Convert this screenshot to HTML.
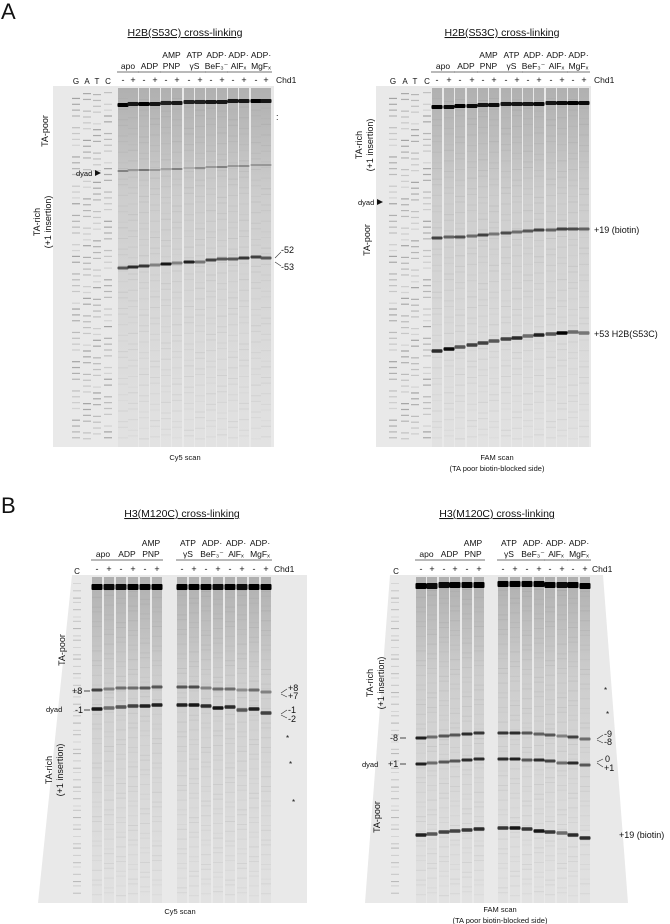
<!DOCTYPE html>
<html><head><meta charset="utf-8"><style>
html,body{margin:0;padding:0;background:#fff;width:670px;height:924px;overflow:hidden}
svg{display:block;font-family:"Liberation Sans",Arial,sans-serif}
</style></head><body>
<svg id="fig" width="670" height="924" viewBox="0 0 670 924" xmlns="http://www.w3.org/2000/svg">
<g id="gels"></g>
<g id="labels" font-size="8.5" fill="#111">
  <text x="1" y="19" font-size="22">A</text>
  <text x="1" y="513" font-size="22">B</text>
  <text x="185" y="36" font-size="10.5" text-anchor="middle" text-decoration="underline">H2B(S53C) cross-linking</text>
  <text x="502" y="36" font-size="10.5" text-anchor="middle" text-decoration="underline">H2B(S53C) cross-linking</text>
  <text x="182" y="517" font-size="10.5" text-anchor="middle" text-decoration="underline">H3(M120C) cross-linking</text>
  <text x="497" y="517" font-size="10.5" text-anchor="middle" text-decoration="underline">H3(M120C) cross-linking</text>
  <text x="185" y="460" font-size="7.5" text-anchor="middle">Cy5 scan</text>
  <text x="497" y="460" font-size="7.5" text-anchor="middle">FAM scan</text>
  <text x="497" y="471" font-size="7.5" text-anchor="middle">(TA poor biotin-blocked side)</text>
  <text x="180" y="914" font-size="7.5" text-anchor="middle">Cy5 scan</text>
  <text x="500" y="912" font-size="7.5" text-anchor="middle">FAM scan</text>
  <text x="500" y="923" font-size="7.5" text-anchor="middle">(TA poor biotin-blocked side)</text>

  <text transform="translate(48,131) rotate(-90)" text-anchor="middle" font-size="9">TA-poor</text>
  <text transform="translate(40,222) rotate(-90)" text-anchor="middle" font-size="9">TA-rich</text>
  <text transform="translate(51,222) rotate(-90)" text-anchor="middle" font-size="9">(+1 insertion)</text>
  <text x="76" y="176" font-size="7.5">dyad</text>
  <path d="M95 170 L101 173 L95 176Z" fill="#111"/>
  <text x="276" y="120" font-size="9">:</text>
  <text x="281" y="253" font-size="9">-52</text>
  <text x="281" y="270" font-size="9">-53</text>
  <path d="M275 258 L281 252 M275 262 L281 266" stroke="#333" stroke-width="0.6" fill="none"/>

  <text transform="translate(362,145) rotate(-90)" text-anchor="middle" font-size="9">TA-rich</text>
  <text transform="translate(373,145) rotate(-90)" text-anchor="middle" font-size="9">(+1 insertion)</text>
  <text x="358" y="205" font-size="7.5">dyad</text>
  <path d="M377 199 L383 202 L377 205Z" fill="#111"/>
  <text transform="translate(370,240) rotate(-90)" text-anchor="middle" font-size="9">TA-poor</text>
  <text x="594" y="233" font-size="9">+19 (biotin)</text>
  <text x="594" y="337" font-size="9">+53  H2B(S53C)</text>

  <text transform="translate(65,650) rotate(-90)" text-anchor="middle" font-size="9">TA-poor</text>
  <text transform="translate(52,770) rotate(-90)" text-anchor="middle" font-size="9">TA-rich</text>
  <text transform="translate(63,770) rotate(-90)" text-anchor="middle" font-size="9">(+1 insertion)</text>
  <text x="46" y="712" font-size="7.5">dyad</text>
  <text x="72" y="694" font-size="9">+8</text>
  <text x="75" y="713" font-size="9">-1</text>
  <path d="M84 691 L90 691 M84 710 L90 710" stroke="#111" stroke-width="0.7"/>
  <text x="288" y="691" font-size="9">+8</text>
  <text x="288" y="699" font-size="9">+7</text>
  <text x="288" y="713" font-size="9">-1</text>
  <text x="288" y="722" font-size="9">-2</text>
  <path d="M281 693 L287 689 M281 694 L287 697 M281 714 L287 710 M281 715 L287 718" stroke="#333" stroke-width="0.6"/>
  <text x="286" y="741" font-size="8">*</text>
  <text x="289" y="767" font-size="8">*</text>
  <text x="292" y="805" font-size="8">*</text>

  <text transform="translate(373,683) rotate(-90)" text-anchor="middle" font-size="9">TA-rich</text>
  <text transform="translate(384,683) rotate(-90)" text-anchor="middle" font-size="9">(+1 insertion)</text>
  <text transform="translate(380,817) rotate(-90)" text-anchor="middle" font-size="9">TA-poor</text>
  <text x="362" y="767" font-size="7.5">dyad</text>
  <text x="390" y="741" font-size="9">-8</text>
  <text x="388" y="767" font-size="9">+1</text>
  <path d="M400 738 L406 738 M400 764 L406 764" stroke="#111" stroke-width="0.7"/>
  <text x="604" y="737" font-size="9">-9</text>
  <text x="604" y="745" font-size="9">-8</text>
  <text x="605" y="762" font-size="9">0</text>
  <text x="604" y="771" font-size="9">+1</text>
  <path d="M597 739 L603 735 M597 740 L603 743 M597 762 L603 759 M597 763 L603 767" stroke="#333" stroke-width="0.6"/>
  <text x="619" y="838" font-size="9">+19 (biotin)</text>
  <text x="604" y="693" font-size="8">*</text>
  <text x="606" y="717" font-size="8">*</text>
</g>
</svg>
<script>
const groupNames=[["apo"],["ADP"],["AMP","PNP"],["ATP","γS"],["ADP·","BeF₃⁻"],["ADP·","AlFₓ"],["ADP·","MgFₓ"]];
const chd1=["-","+","-","+","-","+","-","+","-","+","-","+","-","+"];
const seqLanes=["G","A","T","C"];
const aLLanes=[123,133,144,155,166,177,189,200,211,222,233,244,256,266];
const aLSeqX=[76,87,97,108];
const aLTopY=[105,104,104,104,103,103,102,102,102,102,101,101,101,101];
const aLTopI=[1,.9,1,.9,.85,.9,.85,.85,.9,.9,.9,.9,1,.9];
const aLDyadY=[171,170,170,170,169,169,168,168,167,167,166,166,165,165];
const aLDyadI=[.4,.3,.45,.3,.25,.4,.2,.35,.3,.4,.3,.35,.3,.3];
const aL53Y=[268,267,266,265,264,263,262,262,260,259,259,258,257,258];
const aL53I=[.6,.8,.75,.4,.9,.4,.85,.45,.7,.6,.6,.75,.7,.6];
const aRLanes=[437,449,460,472,483,494,506,517,528,539,551,562,573,584];
const aRSeqX=[393,405,415,427];
const aRTopY=[107,107,106,106,105,105,104,104,104,104,103,103,103,103];
const aRTopI=[1,.95,1,.95,.9,.95,.9,.9,.9,.95,.9,.95,1,.95];
const aR19Y=[238,237,237,236,235,234,233,232,231,230,230,229,229,229];
const aR19I=[.7,.55,.65,.5,.7,.45,.65,.5,.6,.7,.55,.7,.65,.55];
const aR53Y=[351,349,347,345,343,341,339,338,336,335,334,333,332,333];
const aR53I=[.8,.95,.6,.7,.7,.6,.7,.8,.5,.85,.6,1,.5,.45];
const bLLanes=[97,109,121,133,145,157,182,194,206,218,230,242,254,266];
const bLTopY=[587,587,587,587,587,587,587,587,587,587,587,587,587,587];
const bLTopI=[1,.95,.95,1,1,1,1,1,1,.95,1,.95,1,1];
const bL8Y=[690,689,688,688,688,687,687,687,688,689,689,690,690,692];
const bL8I=[.7,.4,.5,.5,.6,.6,.6,.65,.4,.5,.5,.35,.5,.4];
const bL1Y=[709,708,707,706,706,705,705,705,706,708,707,710,709,713];
const bL1I=[.9,.5,.6,.7,.85,.85,.85,.9,.8,.9,.8,.6,.85,.7];
const bRLanes=[421,432,444,455,467,479,503,515,527,539,550,562,573,585];
const bRTopY=[586,586,585,585,585,585,584,584,584,584,585,585,585,586];
const bRTopI=[1,.95,.95,1,1,1,1,1,1,1,1,.95,1,1];
const bR8Y=[738,737,736,735,734,733,733,733,733,734,735,736,737,739];
const bR8I=[.85,.5,.6,.6,.8,.75,.75,.8,.6,.55,.6,.4,.7,.5];
const bR1Y=[764,763,762,761,760,759,759,759,760,760,761,763,763,765];
const bR1I=[.85,.5,.6,.6,.8,.8,.8,.85,.6,.8,.7,.5,.8,.6];
const bR19Y=[835,834,832,831,830,829,828,828,829,831,832,833,835,838];
const bR19I=[.85,.6,.7,.7,.75,.8,.75,.9,.75,.9,.75,.5,.8,.8];

const NS="http://www.w3.org/2000/svg";
const gels=document.getElementById('gels');
const labels=document.getElementById('labels');
function el(tag,attrs,parent){const e=document.createElementNS(NS,tag);for(const k in attrs)e.setAttribute(k,attrs[k]);(parent||gels).appendChild(e);return e;}
function shade(i){const v=Math.max(0,Math.round(215-i*215));return `rgb(${v},${v},${v})`;}
function yOf(arr,i){return arr[i];}

const defs=el('defs',{});
const lg=el('linearGradient',{id:'laneg',x1:0,y1:0,x2:0,y2:1},defs);
el('stop',{offset:'0','stop-color':'#b0b0b0'},lg);
el('stop',{offset:'0.3','stop-color':'#cdcdcd'},lg);
el('stop',{offset:'0.7','stop-color':'#dadada'},lg);
el('stop',{offset:'1','stop-color':'#e2e2e2'},lg);

function gel(name,poly,y1,lanes,seqX,bands,laneTop,y0){
  const bg=el('polygon',{points:poly,fill:'#e9e9e9'});
  
  
  const g=el('g',{});
  
  
  lanes.forEach((x,i)=>{
    const r=el('rect',{x:x-5,y:laneTop,width:10,height:y1-laneTop,fill:'url(#laneg)'},g);
    
    
    for(let k=0;k<40;k++){
      const yy=laneTop+10+k*((y1-laneTop-14)/40)+((k*7+i*3)%5);
      const op=0.05+((k*13+i*5)%7)/80;
      el('rect',{x:x-5,y:yy,width:10,height:1,fill:'#777','fill-opacity':op},g);
    }
  });
  (seqX||[]).forEach((x,i)=>{
    const s=el('g',{},g);
    
    
    for(let k=0;k<60;k++){
      if((k*7+i*11)%5===0)continue;
      const yy=y0+6+k*((y1-y0-10)/60)+((k*3+i)%3);
      const op=0.15+((k*17+i*7)%9)/25;
      el('rect',{x:x-4,y:yy,width:8,height:1.2,fill:'#555','fill-opacity':op},s);
    }
  });
  bands.forEach(b=>{
    lanes.forEach((x,i)=>{
      const r=el('rect',{x:x-5.5,y:yOf(b.y,i)-b.h/2,width:11,height:b.h,fill:shade(b.i[i]),rx:1},g);
      
      
    });
  });
}
gel('gel-a-left',"53,86 274,86 274,447 53,447",447,aLLanes,aLSeqX,[
  {name:'top',y:aLTopY,i:aLTopI,h:4},{name:'dyad',y:aLDyadY,i:aLDyadI,h:2},{name:'pos53',y:aL53Y,i:aL53I,h:3}],88,86);
gel('gel-a-right',"376,86 591,86 591,447 376,447",447,aRLanes,aRSeqX,[
  {name:'top',y:aRTopY,i:aRTopI,h:4},{name:'pos19',y:aR19Y,i:aR19I,h:3},{name:'pos53',y:aR53Y,i:aR53I,h:3.5}],88,86);
gel('gel-b-left',"72,575 307,575 307,903 38,903",903,bLLanes,null,[
  {name:'top',y:bLTopY,i:bLTopI,h:6},{name:'plus8',y:bL8Y,i:bL8I,h:3},{name:'minus1',y:bL1Y,i:bL1I,h:3.5}],577,575);
gel('gel-b-right',"390,575 603,575 628,903 365,903",903,bRLanes,null,[
  {name:'top',y:bRTopY,i:bRTopI,h:6},{name:'minus8',y:bR8Y,i:bR8I,h:3},{name:'plus1',y:bR1Y,i:bR1I,h:3},{name:'pos19',y:bR19Y,i:bR19I,h:3.5}],577,575);
[[77,575],[395,575]].forEach(([x,y],j)=>{
  const g=el('g',{});
  
  
  for(let k=0;k<50;k++){const yy=y+8+k*6.3+(k%3);el('rect',{x:x-4,y:yy,width:8,height:1,fill:'#888','fill-opacity':0.2+(k*7%5)/12},g);}
});

function header(lanes,lineY,pmY,chdX,seqX,seqY,cX,cY){
  groupNames.forEach((nm,gi)=>{
    const a=lanes[gi*2],b=lanes[gi*2+1],cx=(a+b)/2;
    const l=el('line',{x1:a-6,x2:b+6,y1:lineY,y2:lineY,stroke:'#444','stroke-width':0.7},labels);
    
    
    nm.forEach((t,k)=>{
      const tx=el('text',{x:cx,y:lineY-3-(nm.length-1-k)*11,'text-anchor':'middle','font-size':8.5},labels);
      tx.textContent=t;
      
      
    });
  });
  lanes.forEach((x,i)=>{
    const t=el('text',{x:x,y:pmY,'text-anchor':'middle','font-size':9},labels);
    t.textContent=chd1[i];
    
    
  });
  const c=el('text',{x:chdX,y:pmY,'font-size':8.5},labels);c.textContent='Chd1';
  
  
  (seqX||[]).forEach((x,i)=>{
    const t=el('text',{x:x,y:seqY,'text-anchor':'middle','font-size':8},labels);t.textContent=seqLanes[i];
    
    
  });
  if(cX){const t=el('text',{x:cX,y:cY,'text-anchor':'middle','font-size':8},labels);t.textContent='C';
    
    }
}
header(aLLanes,72,83,276,aLSeqX,84);
header(aRLanes,72,83,594,aRSeqX,84);
header(bLLanes,560,572,274,null,0,77,574);
header(bRLanes,560,572,592,null,0,396,574);
</script>
</body></html>
